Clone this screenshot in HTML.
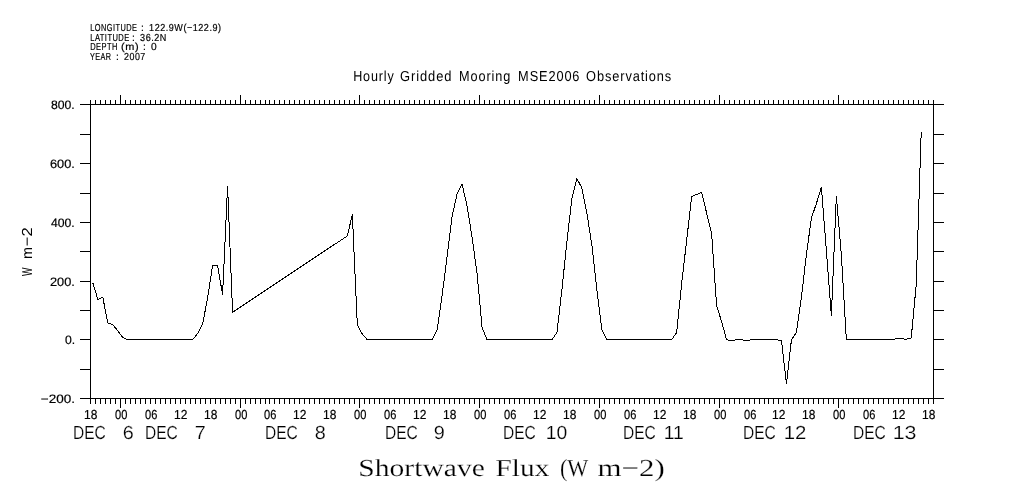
<!DOCTYPE html>
<html><head><meta charset="utf-8"><style>
html,body{margin:0;padding:0;background:#fff;width:1009px;height:504px;overflow:hidden;font-family:"Liberation Sans",sans-serif}
svg{display:block;will-change:transform}
.thin{stroke:#fff;stroke-width:0.2px}
.bold{stroke:#000;stroke-width:0.2px}
</style></head><body>
<svg width="1009" height="504" viewBox="0 0 1009 504" text-rendering="geometricPrecision">
<rect width="1009" height="504" fill="#fff"/>
<path fill="none" stroke="#000" stroke-width="1" shape-rendering="crispEdges" d="M80 104.5L944 104.5M80 398.5L944 398.5M90.5 104.5L90.5 398.5M933.5 104.5L933.5 398.5M80 104.5L90.5 104.5M933.5 104.5L944 104.5M80 134.5L90.5 134.5M933.5 134.5L944 134.5M80 163.5L90.5 163.5M933.5 163.5L944 163.5M80 193.5L90.5 193.5M933.5 193.5L944 193.5M80 222.5L90.5 222.5M933.5 222.5L944 222.5M80 251.5L90.5 251.5M933.5 251.5L944 251.5M80 281.5L90.5 281.5M933.5 281.5L944 281.5M80 310.5L90.5 310.5M933.5 310.5L944 310.5M80 339.5L90.5 339.5M933.5 339.5L944 339.5M80 369.5L90.5 369.5M933.5 369.5L944 369.5M80 398.5L90.5 398.5M933.5 398.5L944 398.5M90.5 100L90.5 104.5M90.5 398.5L90.5 404M95.5 100L95.5 104.5M95.5 398.5L95.5 404M100.5 100L100.5 104.5M100.5 398.5L100.5 404M105.5 100L105.5 104.5M105.5 398.5L105.5 404M110.5 100L110.5 104.5M110.5 398.5L110.5 404M115.5 100L115.5 104.5M115.5 398.5L115.5 404M120.5 95L120.5 104.5M120.5 398.5L120.5 408M125.5 100L125.5 104.5M125.5 398.5L125.5 404M130.5 100L130.5 104.5M130.5 398.5L130.5 404M135.5 100L135.5 104.5M135.5 398.5L135.5 404M140.5 100L140.5 104.5M140.5 398.5L140.5 404M145.5 100L145.5 104.5M145.5 398.5L145.5 404M150.5 100L150.5 104.5M150.5 398.5L150.5 404M155.5 100L155.5 104.5M155.5 398.5L155.5 404M160.5 100L160.5 104.5M160.5 398.5L160.5 404M165.5 100L165.5 104.5M165.5 398.5L165.5 404M170.5 100L170.5 104.5M170.5 398.5L170.5 404M175.5 100L175.5 104.5M175.5 398.5L175.5 404M180.5 100L180.5 104.5M180.5 398.5L180.5 404M185.5 100L185.5 104.5M185.5 398.5L185.5 404M190.5 100L190.5 104.5M190.5 398.5L190.5 404M195.5 100L195.5 104.5M195.5 398.5L195.5 404M200.5 100L200.5 104.5M200.5 398.5L200.5 404M205.5 100L205.5 104.5M205.5 398.5L205.5 404M210.5 100L210.5 104.5M210.5 398.5L210.5 404M215.5 100L215.5 104.5M215.5 398.5L215.5 404M220.5 100L220.5 104.5M220.5 398.5L220.5 404M225.5 100L225.5 104.5M225.5 398.5L225.5 404M230.5 100L230.5 104.5M230.5 398.5L230.5 404M235.5 100L235.5 104.5M235.5 398.5L235.5 404M240.5 95L240.5 104.5M240.5 398.5L240.5 408M245.5 100L245.5 104.5M245.5 398.5L245.5 404M250.5 100L250.5 104.5M250.5 398.5L250.5 404M255.5 100L255.5 104.5M255.5 398.5L255.5 404M260.5 100L260.5 104.5M260.5 398.5L260.5 404M265.5 100L265.5 104.5M265.5 398.5L265.5 404M269.5 100L269.5 104.5M269.5 398.5L269.5 404M274.5 100L274.5 104.5M274.5 398.5L274.5 404M279.5 100L279.5 104.5M279.5 398.5L279.5 404M284.5 100L284.5 104.5M284.5 398.5L284.5 404M289.5 100L289.5 104.5M289.5 398.5L289.5 404M294.5 100L294.5 104.5M294.5 398.5L294.5 404M299.5 100L299.5 104.5M299.5 398.5L299.5 404M304.5 100L304.5 104.5M304.5 398.5L304.5 404M309.5 100L309.5 104.5M309.5 398.5L309.5 404M314.5 100L314.5 104.5M314.5 398.5L314.5 404M319.5 100L319.5 104.5M319.5 398.5L319.5 404M324.5 100L324.5 104.5M324.5 398.5L324.5 404M329.5 100L329.5 104.5M329.5 398.5L329.5 404M334.5 100L334.5 104.5M334.5 398.5L334.5 404M339.5 100L339.5 104.5M339.5 398.5L339.5 404M344.5 100L344.5 104.5M344.5 398.5L344.5 404M349.5 100L349.5 104.5M349.5 398.5L349.5 404M354.5 100L354.5 104.5M354.5 398.5L354.5 404M359.5 95L359.5 104.5M359.5 398.5L359.5 408M364.5 100L364.5 104.5M364.5 398.5L364.5 404M369.5 100L369.5 104.5M369.5 398.5L369.5 404M374.5 100L374.5 104.5M374.5 398.5L374.5 404M379.5 100L379.5 104.5M379.5 398.5L379.5 404M384.5 100L384.5 104.5M384.5 398.5L384.5 404M389.5 100L389.5 104.5M389.5 398.5L389.5 404M394.5 100L394.5 104.5M394.5 398.5L394.5 404M399.5 100L399.5 104.5M399.5 398.5L399.5 404M404.5 100L404.5 104.5M404.5 398.5L404.5 404M409.5 100L409.5 104.5M409.5 398.5L409.5 404M414.5 100L414.5 104.5M414.5 398.5L414.5 404M419.5 100L419.5 104.5M419.5 398.5L419.5 404M424.5 100L424.5 104.5M424.5 398.5L424.5 404M429.5 100L429.5 104.5M429.5 398.5L429.5 404M434.5 100L434.5 104.5M434.5 398.5L434.5 404M439.5 100L439.5 104.5M439.5 398.5L439.5 404M444.5 100L444.5 104.5M444.5 398.5L444.5 404M449.5 100L449.5 104.5M449.5 398.5L449.5 404M454.5 100L454.5 104.5M454.5 398.5L454.5 404M459.5 100L459.5 104.5M459.5 398.5L459.5 404M464.5 100L464.5 104.5M464.5 398.5L464.5 404M469.5 100L469.5 104.5M469.5 398.5L469.5 404M474.5 100L474.5 104.5M474.5 398.5L474.5 404M479.5 95L479.5 104.5M479.5 398.5L479.5 408M484.5 100L484.5 104.5M484.5 398.5L484.5 404M489.5 100L489.5 104.5M489.5 398.5L489.5 404M494.5 100L494.5 104.5M494.5 398.5L494.5 404M499.5 100L499.5 104.5M499.5 398.5L499.5 404M504.5 100L504.5 104.5M504.5 398.5L504.5 404M509.5 100L509.5 104.5M509.5 398.5L509.5 404M514.5 100L514.5 104.5M514.5 398.5L514.5 404M519.5 100L519.5 104.5M519.5 398.5L519.5 404M524.5 100L524.5 104.5M524.5 398.5L524.5 404M529.5 100L529.5 104.5M529.5 398.5L529.5 404M534.5 100L534.5 104.5M534.5 398.5L534.5 404M539.5 100L539.5 104.5M539.5 398.5L539.5 404M544.5 100L544.5 104.5M544.5 398.5L544.5 404M549.5 100L549.5 104.5M549.5 398.5L549.5 404M554.5 100L554.5 104.5M554.5 398.5L554.5 404M559.5 100L559.5 104.5M559.5 398.5L559.5 404M564.5 100L564.5 104.5M564.5 398.5L564.5 404M569.5 100L569.5 104.5M569.5 398.5L569.5 404M574.5 100L574.5 104.5M574.5 398.5L574.5 404M579.5 100L579.5 104.5M579.5 398.5L579.5 404M584.5 100L584.5 104.5M584.5 398.5L584.5 404M589.5 100L589.5 104.5M589.5 398.5L589.5 404M594.5 100L594.5 104.5M594.5 398.5L594.5 404M599.5 95L599.5 104.5M599.5 398.5L599.5 408M604.5 100L604.5 104.5M604.5 398.5L604.5 404M609.5 100L609.5 104.5M609.5 398.5L609.5 404M614.5 100L614.5 104.5M614.5 398.5L614.5 404M619.5 100L619.5 104.5M619.5 398.5L619.5 404M624.5 100L624.5 104.5M624.5 398.5L624.5 404M629.5 100L629.5 104.5M629.5 398.5L629.5 404M634.5 100L634.5 104.5M634.5 398.5L634.5 404M639.5 100L639.5 104.5M639.5 398.5L639.5 404M644.5 100L644.5 104.5M644.5 398.5L644.5 404M649.5 100L649.5 104.5M649.5 398.5L649.5 404M654.5 100L654.5 104.5M654.5 398.5L654.5 404M659.5 100L659.5 104.5M659.5 398.5L659.5 404M664.5 100L664.5 104.5M664.5 398.5L664.5 404M669.5 100L669.5 104.5M669.5 398.5L669.5 404M674.5 100L674.5 104.5M674.5 398.5L674.5 404M679.5 100L679.5 104.5M679.5 398.5L679.5 404M684.5 100L684.5 104.5M684.5 398.5L684.5 404M689.5 100L689.5 104.5M689.5 398.5L689.5 404M694.5 100L694.5 104.5M694.5 398.5L694.5 404M699.5 100L699.5 104.5M699.5 398.5L699.5 404M704.5 100L704.5 104.5M704.5 398.5L704.5 404M709.5 100L709.5 104.5M709.5 398.5L709.5 404M714.5 100L714.5 104.5M714.5 398.5L714.5 404M719.5 95L719.5 104.5M719.5 398.5L719.5 408M724.5 100L724.5 104.5M724.5 398.5L724.5 404M729.5 100L729.5 104.5M729.5 398.5L729.5 404M734.5 100L734.5 104.5M734.5 398.5L734.5 404M739.5 100L739.5 104.5M739.5 398.5L739.5 404M744.5 100L744.5 104.5M744.5 398.5L744.5 404M749.5 100L749.5 104.5M749.5 398.5L749.5 404M754.5 100L754.5 104.5M754.5 398.5L754.5 404M759.5 100L759.5 104.5M759.5 398.5L759.5 404M764.5 100L764.5 104.5M764.5 398.5L764.5 404M768.5 100L768.5 104.5M768.5 398.5L768.5 404M773.5 100L773.5 104.5M773.5 398.5L773.5 404M778.5 100L778.5 104.5M778.5 398.5L778.5 404M783.5 100L783.5 104.5M783.5 398.5L783.5 404M788.5 100L788.5 104.5M788.5 398.5L788.5 404M793.5 100L793.5 104.5M793.5 398.5L793.5 404M798.5 100L798.5 104.5M798.5 398.5L798.5 404M803.5 100L803.5 104.5M803.5 398.5L803.5 404M808.5 100L808.5 104.5M808.5 398.5L808.5 404M813.5 100L813.5 104.5M813.5 398.5L813.5 404M818.5 100L818.5 104.5M818.5 398.5L818.5 404M823.5 100L823.5 104.5M823.5 398.5L823.5 404M828.5 100L828.5 104.5M828.5 398.5L828.5 404M833.5 100L833.5 104.5M833.5 398.5L833.5 404M838.5 95L838.5 104.5M838.5 398.5L838.5 408M843.5 100L843.5 104.5M843.5 398.5L843.5 404M848.5 100L848.5 104.5M848.5 398.5L848.5 404M853.5 100L853.5 104.5M853.5 398.5L853.5 404M858.5 100L858.5 104.5M858.5 398.5L858.5 404M863.5 100L863.5 104.5M863.5 398.5L863.5 404M868.5 100L868.5 104.5M868.5 398.5L868.5 404M873.5 100L873.5 104.5M873.5 398.5L873.5 404M878.5 100L878.5 104.5M878.5 398.5L878.5 404M883.5 100L883.5 104.5M883.5 398.5L883.5 404M888.5 100L888.5 104.5M888.5 398.5L888.5 404M893.5 100L893.5 104.5M893.5 398.5L893.5 404M898.5 100L898.5 104.5M898.5 398.5L898.5 404M903.5 100L903.5 104.5M903.5 398.5L903.5 404M908.5 100L908.5 104.5M908.5 398.5L908.5 404M913.5 100L913.5 104.5M913.5 398.5L913.5 404M918.5 100L918.5 104.5M918.5 398.5L918.5 404M923.5 100L923.5 104.5M923.5 398.5L923.5 404M928.5 100L928.5 104.5M928.5 398.5L928.5 404M933.5 100L933.5 104.5M933.5 398.5L933.5 404"/>
<polyline fill="none" stroke="#000" stroke-width="1" shape-rendering="crispEdges" points="92.85,282.96 97.84,299.42 102.83,297.36 107.82,322.94 112.81,324.71 117.80,330.88 122.79,337.35 127.78,339.70 132.77,339.70 137.76,339.70 142.75,339.70 147.74,339.70 152.73,339.70 157.72,339.70 162.71,339.70 167.70,339.70 172.69,339.70 177.68,339.70 182.67,339.70 187.66,339.70 192.65,339.70 197.64,333.53 202.63,323.82 207.62,297.95 212.61,265.61 217.60,265.61 222.59,294.72 227.58,185.94 232.57,312.21 237.56,308.89 242.55,305.58 247.54,302.26 252.53,298.94 257.52,295.63 262.51,292.31 267.50,288.99 272.49,285.67 277.48,282.36 282.47,279.04 287.46,275.72 292.45,272.41 297.44,269.09 302.43,265.77 307.42,262.45 312.41,259.14 317.40,255.82 322.39,252.50 327.38,249.19 332.37,245.87 337.36,242.55 342.35,239.24 347.34,235.92 352.33,214.46 357.32,325.00 362.31,334.11 367.30,339.70 372.29,339.70 377.28,339.70 382.27,339.70 387.26,339.70 392.25,339.70 397.24,339.70 402.23,339.70 407.22,339.70 412.21,339.70 417.20,339.70 422.19,339.70 427.18,339.70 432.17,339.70 437.16,330.00 442.15,295.31 447.14,255.91 452.13,215.93 457.12,193.88 462.11,184.17 467.10,206.22 472.09,237.39 477.08,273.55 482.07,327.35 487.06,339.70 492.05,339.70 497.04,339.70 502.03,339.70 507.02,339.70 512.01,339.70 517.00,339.70 521.99,339.70 526.98,339.70 531.97,339.70 536.96,339.70 541.95,339.70 546.94,339.70 551.93,339.70 556.92,332.64 561.91,289.72 566.90,241.80 571.89,198.58 576.88,178.59 581.87,188.00 586.86,212.99 591.85,245.03 596.84,289.13 601.83,330.00 606.82,339.70 611.81,339.70 616.80,339.70 621.79,339.70 626.78,339.70 631.77,339.70 636.76,339.70 641.75,339.70 646.74,339.70 651.73,339.70 656.72,339.70 661.71,339.70 666.70,339.70 671.69,339.70 676.68,332.50 681.67,283.25 686.66,240.33 691.65,196.52 696.64,194.46 701.63,192.41 706.62,212.99 711.61,233.57 716.60,305.60 721.59,321.47 726.58,339.70 731.57,340.58 736.56,339.70 741.55,339.70 746.54,340.58 751.53,339.70 756.52,339.70 761.51,339.70 766.50,339.70 771.49,339.70 776.48,339.70 781.47,340.58 786.46,383.80 791.45,339.70 796.44,332.35 801.43,297.07 806.42,254.44 811.41,217.98 816.40,203.58 821.39,187.11 826.38,250.91 831.37,315.59 836.36,195.93 841.35,255.03 846.34,339.70 851.33,339.70 856.32,339.70 861.31,339.70 866.30,339.70 871.29,339.70 876.28,339.70 881.27,339.70 886.26,339.70 891.25,339.70 896.24,338.82 901.23,338.82 906.22,339.11 911.21,337.94 916.20,285.02 921.19,132.14"/>
<g fill="#000">
<text class="bold" letter-spacing="0.6" x="90.27" y="31" font-family="Liberation Sans" font-size="10.2" textLength="47.06" lengthAdjust="spacingAndGlyphs">LONGITUDE</text>
<text class="bold" letter-spacing="0.6" x="141.00" y="31" font-family="Liberation Sans" font-size="10.2" textLength="3.44" lengthAdjust="spacingAndGlyphs">:</text>
<text class="bold" letter-spacing="0.6" x="149.11" y="31" font-family="Liberation Sans" font-size="10.2" textLength="72.44" lengthAdjust="spacingAndGlyphs">122.9W(−122.9)</text>
<text class="bold" letter-spacing="0.6" x="90.26" y="41" font-family="Liberation Sans" font-size="10.2" textLength="39.44" lengthAdjust="spacingAndGlyphs">LATITUDE</text>
<text class="bold" letter-spacing="0.6" x="132.00" y="41" font-family="Liberation Sans" font-size="10.2" textLength="3.44" lengthAdjust="spacingAndGlyphs">:</text>
<text class="bold" letter-spacing="0.6" x="140.11" y="41" font-family="Liberation Sans" font-size="10.2" textLength="26.83" lengthAdjust="spacingAndGlyphs">36.2N</text>
<text class="bold" letter-spacing="0.6" x="90.26" y="50" font-family="Liberation Sans" font-size="10.2" textLength="27.60" lengthAdjust="spacingAndGlyphs">DEPTH</text>
<text class="bold" letter-spacing="0.6" x="120.93" y="50" font-family="Liberation Sans" font-size="10.2" textLength="18.30" lengthAdjust="spacingAndGlyphs">(m)</text>
<text class="bold" letter-spacing="0.6" x="143.00" y="50" font-family="Liberation Sans" font-size="10.2" textLength="3.44" lengthAdjust="spacingAndGlyphs">:</text>
<text class="bold" letter-spacing="0.6" x="151.00" y="50" font-family="Liberation Sans" font-size="10.2" textLength="6.28" lengthAdjust="spacingAndGlyphs">0</text>
<text class="bold" letter-spacing="0.6" x="90.00" y="60" font-family="Liberation Sans" font-size="10.2" textLength="21.54" lengthAdjust="spacingAndGlyphs">YEAR</text>
<text class="bold" letter-spacing="0.6" x="116.00" y="60" font-family="Liberation Sans" font-size="10.2" textLength="3.44" lengthAdjust="spacingAndGlyphs">:</text>
<text class="bold" letter-spacing="0.6" x="124.00" y="60" font-family="Liberation Sans" font-size="10.2" textLength="21.81" lengthAdjust="spacingAndGlyphs">2007</text>
<text letter-spacing="1.0" x="353.13" y="81" font-family="Liberation Sans" font-size="14.5" textLength="41.52" lengthAdjust="spacingAndGlyphs">Hourly</text>
<text letter-spacing="1.0" x="400.11" y="81" font-family="Liberation Sans" font-size="14.5" textLength="52.20" lengthAdjust="spacingAndGlyphs">Gridded</text>
<text letter-spacing="1.0" x="459.12" y="81" font-family="Liberation Sans" font-size="14.5" textLength="51.97" lengthAdjust="spacingAndGlyphs">Mooring</text>
<text letter-spacing="1.0" x="518.12" y="81" font-family="Liberation Sans" font-size="14.5" textLength="62.25" lengthAdjust="spacingAndGlyphs">MSE2006</text>
<text letter-spacing="1.0" x="586.12" y="81" font-family="Liberation Sans" font-size="14.5" textLength="86.04" lengthAdjust="spacingAndGlyphs">Observations</text>
<text class="thin" x="358.38" y="476" font-family="Liberation Serif" font-size="24.4" textLength="126.43" lengthAdjust="spacingAndGlyphs">Shortwave</text>
<text class="thin" x="495.60" y="476" font-family="Liberation Serif" font-size="24.4" textLength="53.68" lengthAdjust="spacingAndGlyphs">Flux</text>
<text class="thin" x="559.89" y="476" font-family="Liberation Serif" font-size="24.4" textLength="28.36" lengthAdjust="spacingAndGlyphs">(W</text>
<text class="thin" x="597.53" y="476" font-family="Liberation Serif" font-size="24.4" textLength="67.26" lengthAdjust="spacingAndGlyphs">m−2)</text>
<text class="bold" x="51.00" y="109" font-family="Liberation Sans" font-size="12.2" textLength="23.73" lengthAdjust="spacingAndGlyphs">800.</text>
<text class="bold" x="49.95" y="168" font-family="Liberation Sans" font-size="12.2" textLength="24.86" lengthAdjust="spacingAndGlyphs">600.</text>
<text class="bold" x="51.00" y="227" font-family="Liberation Sans" font-size="12.2" textLength="23.73" lengthAdjust="spacingAndGlyphs">400.</text>
<text class="bold" x="49.95" y="286" font-family="Liberation Sans" font-size="12.2" textLength="24.86" lengthAdjust="spacingAndGlyphs">200.</text>
<text class="bold" x="65.00" y="344" font-family="Liberation Sans" font-size="12.2" textLength="10.17" lengthAdjust="spacingAndGlyphs">0.</text>
<text class="bold" x="40.89" y="403" font-family="Liberation Sans" font-size="12.2" textLength="34.15" lengthAdjust="spacingAndGlyphs">−200.</text>
<text class="bold" x="84.08" y="419" font-family="Liberation Sans" font-size="13.1" textLength="13.36" lengthAdjust="spacingAndGlyphs">18</text>
<text class="bold" x="115.00" y="419" font-family="Liberation Sans" font-size="13.1" textLength="12.34" lengthAdjust="spacingAndGlyphs">00</text>
<text class="bold" x="145.00" y="419" font-family="Liberation Sans" font-size="13.1" textLength="12.34" lengthAdjust="spacingAndGlyphs">06</text>
<text class="bold" x="174.08" y="419" font-family="Liberation Sans" font-size="13.1" textLength="13.36" lengthAdjust="spacingAndGlyphs">12</text>
<text class="bold" x="204.08" y="419" font-family="Liberation Sans" font-size="13.1" textLength="13.36" lengthAdjust="spacingAndGlyphs">18</text>
<text class="bold" x="235.00" y="419" font-family="Liberation Sans" font-size="13.1" textLength="12.34" lengthAdjust="spacingAndGlyphs">00</text>
<text class="bold" x="264.00" y="419" font-family="Liberation Sans" font-size="13.1" textLength="12.34" lengthAdjust="spacingAndGlyphs">06</text>
<text class="bold" x="293.08" y="419" font-family="Liberation Sans" font-size="13.1" textLength="13.36" lengthAdjust="spacingAndGlyphs">12</text>
<text class="bold" x="323.08" y="419" font-family="Liberation Sans" font-size="13.1" textLength="13.36" lengthAdjust="spacingAndGlyphs">18</text>
<text class="bold" x="354.00" y="419" font-family="Liberation Sans" font-size="13.1" textLength="12.34" lengthAdjust="spacingAndGlyphs">00</text>
<text class="bold" x="384.00" y="419" font-family="Liberation Sans" font-size="13.1" textLength="12.34" lengthAdjust="spacingAndGlyphs">06</text>
<text class="bold" x="413.08" y="419" font-family="Liberation Sans" font-size="13.1" textLength="13.36" lengthAdjust="spacingAndGlyphs">12</text>
<text class="bold" x="443.08" y="419" font-family="Liberation Sans" font-size="13.1" textLength="13.36" lengthAdjust="spacingAndGlyphs">18</text>
<text class="bold" x="474.00" y="419" font-family="Liberation Sans" font-size="13.1" textLength="12.34" lengthAdjust="spacingAndGlyphs">00</text>
<text class="bold" x="504.00" y="419" font-family="Liberation Sans" font-size="13.1" textLength="12.34" lengthAdjust="spacingAndGlyphs">06</text>
<text class="bold" x="533.08" y="419" font-family="Liberation Sans" font-size="13.1" textLength="13.36" lengthAdjust="spacingAndGlyphs">12</text>
<text class="bold" x="563.08" y="419" font-family="Liberation Sans" font-size="13.1" textLength="13.36" lengthAdjust="spacingAndGlyphs">18</text>
<text class="bold" x="594.00" y="419" font-family="Liberation Sans" font-size="13.1" textLength="12.34" lengthAdjust="spacingAndGlyphs">00</text>
<text class="bold" x="624.00" y="419" font-family="Liberation Sans" font-size="13.1" textLength="12.34" lengthAdjust="spacingAndGlyphs">06</text>
<text class="bold" x="653.08" y="419" font-family="Liberation Sans" font-size="13.1" textLength="13.36" lengthAdjust="spacingAndGlyphs">12</text>
<text class="bold" x="683.08" y="419" font-family="Liberation Sans" font-size="13.1" textLength="13.36" lengthAdjust="spacingAndGlyphs">18</text>
<text class="bold" x="714.00" y="419" font-family="Liberation Sans" font-size="13.1" textLength="12.34" lengthAdjust="spacingAndGlyphs">00</text>
<text class="bold" x="744.00" y="419" font-family="Liberation Sans" font-size="13.1" textLength="12.34" lengthAdjust="spacingAndGlyphs">06</text>
<text class="bold" x="772.08" y="419" font-family="Liberation Sans" font-size="13.1" textLength="13.36" lengthAdjust="spacingAndGlyphs">12</text>
<text class="bold" x="802.08" y="419" font-family="Liberation Sans" font-size="13.1" textLength="13.36" lengthAdjust="spacingAndGlyphs">18</text>
<text class="bold" x="833.00" y="419" font-family="Liberation Sans" font-size="13.1" textLength="12.34" lengthAdjust="spacingAndGlyphs">00</text>
<text class="bold" x="863.00" y="419" font-family="Liberation Sans" font-size="13.1" textLength="12.34" lengthAdjust="spacingAndGlyphs">06</text>
<text class="bold" x="892.08" y="419" font-family="Liberation Sans" font-size="13.1" textLength="13.36" lengthAdjust="spacingAndGlyphs">12</text>
<text class="bold" x="922.08" y="419" font-family="Liberation Sans" font-size="13.1" textLength="13.36" lengthAdjust="spacingAndGlyphs">18</text>
<text class="thin" x="72.98" y="439" font-family="Liberation Sans" font-size="18.9" textLength="32.78" lengthAdjust="spacingAndGlyphs">DEC</text>
<text class="thin" x="122.75" y="439" font-family="Liberation Sans" font-size="18.9" textLength="11.04" lengthAdjust="spacingAndGlyphs">6</text>
<text class="thin" x="144.98" y="439" font-family="Liberation Sans" font-size="18.9" textLength="32.77" lengthAdjust="spacingAndGlyphs">DEC</text>
<text class="thin" x="194.75" y="439" font-family="Liberation Sans" font-size="18.9" textLength="11.04" lengthAdjust="spacingAndGlyphs">7</text>
<text class="thin" x="264.98" y="439" font-family="Liberation Sans" font-size="18.9" textLength="32.77" lengthAdjust="spacingAndGlyphs">DEC</text>
<text class="thin" x="314.75" y="439" font-family="Liberation Sans" font-size="18.9" textLength="11.04" lengthAdjust="spacingAndGlyphs">8</text>
<text class="thin" x="384.98" y="439" font-family="Liberation Sans" font-size="18.9" textLength="32.77" lengthAdjust="spacingAndGlyphs">DEC</text>
<text class="thin" x="433.75" y="439" font-family="Liberation Sans" font-size="18.9" textLength="11.04" lengthAdjust="spacingAndGlyphs">9</text>
<text class="thin" x="502.98" y="439" font-family="Liberation Sans" font-size="18.9" textLength="32.78" lengthAdjust="spacingAndGlyphs">DEC</text>
<text class="thin" x="545.78" y="439" font-family="Liberation Sans" font-size="18.9" textLength="21.48" lengthAdjust="spacingAndGlyphs">10</text>
<text class="thin" x="622.98" y="439" font-family="Liberation Sans" font-size="18.9" textLength="32.78" lengthAdjust="spacingAndGlyphs">DEC</text>
<text class="thin" x="663.78" y="439" font-family="Liberation Sans" font-size="18.9" textLength="20.09" lengthAdjust="spacingAndGlyphs">11</text>
<text class="thin" x="742.98" y="439" font-family="Liberation Sans" font-size="18.9" textLength="32.78" lengthAdjust="spacingAndGlyphs">DEC</text>
<text class="thin" x="783.72" y="439" font-family="Liberation Sans" font-size="18.9" textLength="22.65" lengthAdjust="spacingAndGlyphs">12</text>
<text class="thin" x="852.98" y="439" font-family="Liberation Sans" font-size="18.9" textLength="32.78" lengthAdjust="spacingAndGlyphs">DEC</text>
<text class="thin" x="892.67" y="439" font-family="Liberation Sans" font-size="18.9" textLength="23.82" lengthAdjust="spacingAndGlyphs">13</text>
<text transform="translate(32,276) rotate(-90)" x="0.00" y="0" font-family="Liberation Sans" font-size="14.5" textLength="8.42" lengthAdjust="spacingAndGlyphs">W</text>
<text transform="translate(32,276) rotate(-90)" x="17.00" y="0" font-family="Liberation Sans" font-size="14.5" textLength="12.09" lengthAdjust="spacingAndGlyphs">m</text>
<text transform="translate(32,276) rotate(-90)" x="29.86" y="0" font-family="Liberation Sans" font-size="14.5" textLength="18.91" lengthAdjust="spacingAndGlyphs">−2</text>
</g>
</svg>
</body></html>
